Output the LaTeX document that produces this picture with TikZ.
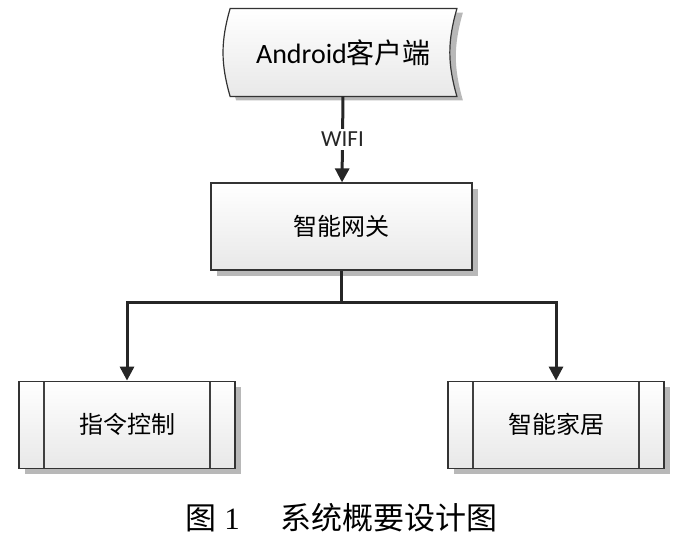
\documentclass[tikz,border=0pt]{standalone}
\usepackage{fontspec}
\setmainfont{Liberation Serif}
\newfontfamily\cjk{Noto Sans CJK SC}
\newfontfamily\calibri{Carlito}
\usetikzlibrary{arrows.meta,positioning,backgrounds,shadows}
\tikzset{
  >={Triangle[length=7pt,width=7pt]},
  unit/.style  ={draw=black!80, line width=0.6pt, top color=white, bottom color=black!9,
                 minimum width=130.5pt, minimum height=43.5pt, align=center,
                 font=\cjk\fontsize{12}{14}\selectfont,
                 drop shadow={shadow xshift=3pt, shadow yshift=-3pt, fill=black!28, opacity=1}},
  proc/.style  ={unit, minimum width=108pt, path picture={
                   \draw[black!75, line width=0.6pt]
                     ([xshift=12.5pt]path picture bounding box.north west) -- ([xshift=12.5pt]path picture bounding box.south west)
                     ([xshift=-12.5pt]path picture bounding box.north east) -- ([xshift=-12.5pt]path picture bounding box.south east);}},
  store/.style ={draw=black!80, line width=0.6pt, top color=white, bottom color=black!9,
                 drop shadow={shadow xshift=3pt, shadow yshift=-2pt, fill=black!28, opacity=1}},
  link/.style  ={->, line width=1.5pt, black!85},
  lbl/.style   ={font=\calibri\fontsize{11.5}{13}\selectfont, fill=white, inner sep=1.5pt},
  figcap/.style={font=\fontsize{15.5}{18}\selectfont},
}
\begin{document}
\begin{tikzpicture}
  \useasboundingbox (0,0) rectangle (339pt,-267.5pt);
  \node[unit] (gw) at (170.75pt,-113.25pt) {智能网关};
  \node[minimum width=113pt, minimum height=43.5pt, above=43pt of gw, xshift=1pt,
        font=\fontsize{14}{16}\selectfont] (client) {{\calibri Android}{\cjk 客户端}};
  \begin{scope}[on background layer]
    \draw[store] (client.north west) to[bend right=16] (client.south west)
      -- (client.south east) to[bend left=16] (client.north east) -- cycle;
  \end{scope}
  \node[proc, below=55pt of gw, xshift=-107.25pt] (cmd) {指令控制};
  \node[proc, below=55pt of gw, xshift=107.25pt] (home) {智能家居};
  \coordinate[below=16pt of gw] (split);
  \coordinate (base) at (split |- cmd.south);
  \draw[link] (client) -- node[lbl]{WIFI} (gw);
  \draw[link] (gw) -- (split) -| (cmd);
  \draw[link] (split) -| (home);
  \node[figcap] (title) at ([yshift=-24.5pt]base) {{\cjk 图} 1\hspace{1.3em}{\cjk 系统概要设计图}};
\end{tikzpicture}
\end{document}
